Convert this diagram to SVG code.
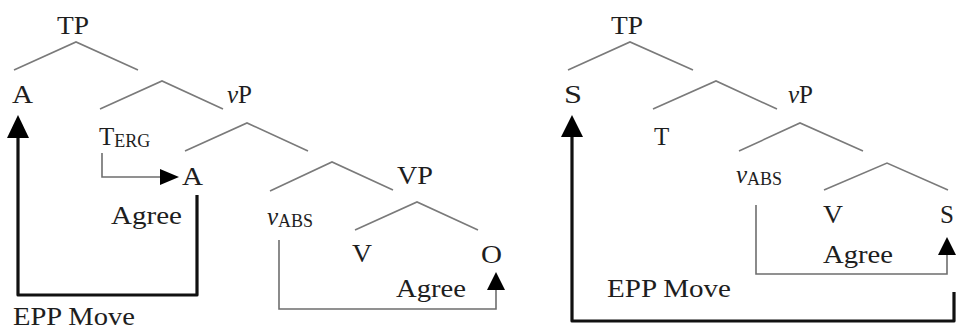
<svg xmlns="http://www.w3.org/2000/svg" width="956" height="331" viewBox="0 0 956 331">
<style>
text{font-family:"Liberation Serif","Times New Roman",serif;font-size:25px;fill:#1e1e1e}
.sub{font-size:18px}
.it{font-style:italic}
.br{fill:none;stroke:#7a7a7a;stroke-width:1.6}
.thin{fill:none;stroke:#6e6e6e;stroke-width:1.6}
.thick{fill:none;stroke:#111;stroke-width:3.2;stroke-linejoin:round}
.head{fill:#000}
</style>
<rect width="956" height="331" fill="#fff"/>
<g id="tree-left">
<g id="L-TP"><text x="57" y="34" textLength="32" lengthAdjust="spacingAndGlyphs">TP</text></g>
<g id="L-A"><text x="12" y="103" textLength="21" lengthAdjust="spacingAndGlyphs">A</text></g>
<g id="L-vP"><text x="227" y="103"><tspan class="it">v</tspan>P</text></g>
<g id="L-TERG"><text x="99" y="145">T<tspan class="sub" dy="2">ERG</tspan></text></g>
<g id="L-A2"><text x="182" y="185" textLength="21" lengthAdjust="spacingAndGlyphs">A</text></g>
<g id="L-vABS"><text x="267" y="225"><tspan class="it">v</tspan><tspan class="sub" dy="2">ABS</tspan></text></g>
<g id="L-VP"><text x="397" y="184" textLength="36" lengthAdjust="spacingAndGlyphs">VP</text></g>
<g id="L-V"><text x="352" y="262" textLength="20" lengthAdjust="spacingAndGlyphs">V</text></g>
<g id="L-O"><text x="481" y="263" textLength="21" lengthAdjust="spacingAndGlyphs">O</text></g>
<g id="L-Agree1"><text x="111" y="224" textLength="71" lengthAdjust="spacingAndGlyphs">Agree</text></g>
<g id="L-Agree2"><text x="396" y="297" textLength="70" lengthAdjust="spacingAndGlyphs">Agree</text></g>
<g id="L-EPP"><text x="13" y="325" textLength="122" lengthAdjust="spacingAndGlyphs">EPP Move</text></g>
</g>
<g id="tree-right">
<g id="R-TP"><text x="611" y="34" textLength="32" lengthAdjust="spacingAndGlyphs">TP</text></g>
<g id="R-S"><text x="564" y="103" textLength="18" lengthAdjust="spacingAndGlyphs">S</text></g>
<g id="R-vP"><text x="788" y="103"><tspan class="it">v</tspan>P</text></g>
<g id="R-T"><text x="654" y="145">T</text></g>
<g id="R-vABS"><text x="736" y="183"><tspan class="it">v</tspan><tspan class="sub" dy="2">ABS</tspan></text></g>
<g id="R-V"><text x="823" y="223" textLength="20" lengthAdjust="spacingAndGlyphs">V</text></g>
<g id="R-S2"><text x="940" y="223">S</text></g>
<g id="R-Agree"><text x="823" y="263" textLength="70" lengthAdjust="spacingAndGlyphs">Agree</text></g>
<g id="R-EPP"><text x="607" y="297" textLength="124" lengthAdjust="spacingAndGlyphs">EPP Move</text></g>
</g>
<g id="connectors">
<polyline class="br" points="14,70 76,42 138,70"/>
<polyline class="br" points="100,109 162,81 223,109"/>
<polyline class="br" points="185,151 247,123 308,151"/>
<polyline class="br" points="270,191 332,162 393,190"/>
<polyline class="br" points="355,230 417,202 478,230"/>
<polyline class="br" points="568,70 630,42 693,70"/>
<polyline class="br" points="653,109 716,81 777,109"/>
<polyline class="br" points="739,151 800,123 863,151"/>
<polyline class="br" points="824,190 887,163 948,190"/>
<path class="thin" d="M102,153 V177 H161"/>
<polygon class="head" points="160,169 160,185 179,177"/>
<path class="thin" d="M279,240 V309 H496 V289"/>
<polygon class="head" points="487,290 505,290 496,272"/>
<path class="thick" d="M197,195 V295 H18 V136"/>
<polygon class="head" points="7,138 29,138 18,115"/>
<path class="thin" d="M756,205 V274 H947 V254"/>
<polygon class="head" points="938,255 956,255 947,237"/>
<path class="thick" d="M954,292 V321 H572 V135"/>
<polygon class="head" points="561,137 583,137 572,115"/>
</g>
</svg>
